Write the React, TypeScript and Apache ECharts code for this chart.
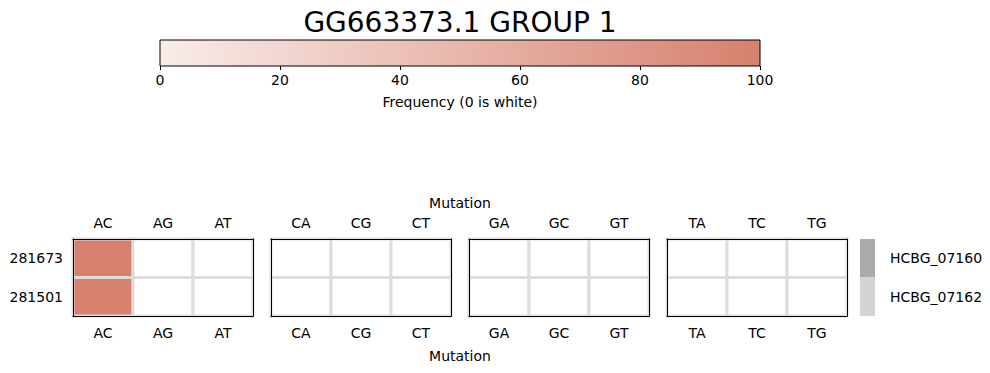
import React, { useEffect, useRef } from "react";
import * as echarts from "echarts";

const titleText = "GG663373.1 GROUP 1";
const rowLabels = ["281673", "281501"];
const mutationGroups = [
  ["AC", "AG", "AT"],
  ["CA", "CG", "CT"],
  ["GA", "GC", "GT"],
  ["TA", "TC", "TG"],
];
// frequencies per row, in the order AC AG AT CA CG CT GA GC GT TA TC TG
const freq281673 = [100, 0, 0, 0, 0, 0, 0, 0, 0, 0, 0, 0];
const freq281501 = [100, 0, 0, 0, 0, 0, 0, 0, 0, 0, 0, 0];
const rowFreqs = [freq281673, freq281501];
const geneLabels = ["HCBG_07160", "HCBG_07162"];
const geneColors = ["#aaaaaa", "#d3d3d3"];
const colorbarRange = [0, 100];
const colorbarInterval = 20;
const colorbarLabel = "Frequency (0 is white)";
const mutationLabel = "Mutation";

const C0 = [249, 236, 233];
const C1 = [215, 128, 110];
const FONT = "DejaVu Sans";

function freqColor(v: number): string {
  if (v === 0) return "#ffffff";
  const t = Math.max(0, Math.min(1, (v - colorbarRange[0]) / (colorbarRange[1] - colorbarRange[0])));
  const c = C0.map((a, i) => Math.round(a + (C1[i] - a) * t));
  return `rgb(${c[0]},${c[1]},${c[2]})`;
}

function cellRenderer(colorOf: (v: number) => string, stroke: string | null, lw: number) {
  return (params: any, api: any) => {
    const p = api.coord([api.value(0), api.value(1)]);
    const s = api.size([1, 1]);
    return {
      type: "rect",
      shape: { x: p[0] - s[0] / 2, y: p[1] - s[1] / 2, width: s[0], height: s[1] },
      style: { fill: colorOf(api.value(2)), stroke: stroke || undefined, lineWidth: stroke ? lw : 0 },
    };
  };
}

export default function App() {
  const ref = useRef<HTMLDivElement>(null);
  useEffect(() => {
    const chart = echarts.init(ref.current!, null, { renderer: "svg" });
    const panelLefts = [73, 271, 469, 667];
    const panelW = 180;
    const panelTop = 239;
    const panelH = 77;

    const grids: any[] = [{ left: 160, top: 40, width: 600, height: 26 }];
    const xAxes: any[] = [
      {
        gridIndex: 0,
        type: "value",
        min: colorbarRange[0],
        max: colorbarRange[1],
        interval: colorbarInterval,
        position: "bottom",
        axisLine: { show: false },
        axisTick: { show: true, length: 4, lineStyle: { color: "#000" } },
        axisLabel: { margin: 7, fontSize: 14, color: "#000", fontFamily: FONT },
        splitLine: { show: false },
        name: colorbarLabel,
        nameLocation: "middle",
        nameGap: 29,
        nameTextStyle: { fontSize: 14, color: "#000", fontFamily: FONT },
      },
    ];
    const yAxes: any[] = [
      { gridIndex: 0, type: "value", min: 0, max: 1, show: false },
    ];
    const series: any[] = [
      {
        type: "custom",
        xAxisIndex: 0,
        yAxisIndex: 0,
        data: [[colorbarRange[0], colorbarRange[1]]],
        renderItem: (params: any, api: any) => {
          const p0 = api.coord([api.value(0), 0]);
          const p1 = api.coord([api.value(1), 1]);
          return {
            type: "rect",
            shape: { x: p0[0], y: p1[1], width: p1[0] - p0[0], height: p0[1] - p1[1] },
            style: {
              fill: new echarts.graphic.LinearGradient(0, 0, 1, 0, [
                { offset: 0, color: `rgb(${C0.join(",")})` },
                { offset: 1, color: `rgb(${C1.join(",")})` },
              ]),
              stroke: "#000",
              lineWidth: 1,
            },
          };
        },
      },
    ];

    const lineStyle = { color: "#000", width: 1 };
    mutationGroups.forEach((cats, i) => {
      const gi = grids.length;
      grids.push({ left: panelLefts[i], top: panelTop, width: panelW, height: panelH });
      const xb = xAxes.length;
      xAxes.push({
        gridIndex: gi,
        type: "category",
        data: cats,
        position: "bottom",
        z: 10,
        axisLine: { show: true, lineStyle },
        axisTick: { show: false },
        axisLabel: { margin: 10, fontSize: 14, color: "#000", fontFamily: FONT },
        splitLine: { show: false },
      });
      xAxes.push({
        gridIndex: gi,
        type: "category",
        data: cats,
        position: "top",
        z: 10,
        axisLine: { show: true, lineStyle },
        axisTick: { show: false },
        axisLabel: { margin: 9, fontSize: 14, color: "#000", fontFamily: FONT },
        splitLine: { show: false },
      });
      const yl = yAxes.length;
      yAxes.push({
        gridIndex: gi,
        type: "category",
        data: rowLabels,
        inverse: true,
        position: "left",
        z: 10,
        axisLine: { show: true, lineStyle },
        axisTick: { show: false },
        axisLabel: { show: i === 0, margin: 10, fontSize: 14, color: "#000", fontFamily: FONT },
        splitLine: { show: false },
      });
      yAxes.push({
        gridIndex: gi,
        type: "category",
        data: rowLabels,
        inverse: true,
        position: "right",
        z: 10,
        axisLine: { show: true, lineStyle },
        axisTick: { show: false },
        axisLabel: { show: false },
        splitLine: { show: false },
      });
      const data: any[] = [];
      rowFreqs.forEach((rf, r) => {
        cats.forEach((c, ci) => {
          data.push([ci, r, rf[i * 3 + ci]]);
        });
      });
      series.push({
        type: "custom",
        xAxisIndex: xb,
        yAxisIndex: yl,
        z: 2,
        data,
        renderItem: cellRenderer(freqColor, "#dddddd", 3),
      });
    });

    // gene annotation strip
    const gg = grids.length;
    grids.push({ left: 860, top: panelTop, width: 15, height: panelH });
    const gx = xAxes.length;
    xAxes.push({ gridIndex: gg, type: "category", data: ["gene"], show: false });
    const gy = yAxes.length;
    yAxes.push({
      gridIndex: gg,
      type: "category",
      data: geneLabels,
      inverse: true,
      position: "right",
      axisLine: { show: false },
      axisTick: { show: false },
      axisLabel: { margin: 15, fontSize: 14, color: "#000", fontFamily: FONT },
      splitLine: { show: false },
    });
    series.push({
      type: "custom",
      xAxisIndex: gx,
      yAxisIndex: gy,
      data: geneLabels.map((g, k) => [0, k, k]),
      renderItem: cellRenderer((k: number) => geneColors[k], null, 0),
    });

    chart.setOption({
      animation: false,
      backgroundColor: "#ffffff",
      textStyle: { fontFamily: FONT },
      grid: grids,
      xAxis: xAxes,
      yAxis: yAxes,
      series,
      graphic: [
        {
          type: "text",
          x: 460,
          y: 22,
          style: { text: titleText, fontSize: 28, fontFamily: FONT, fill: "#000", align: "center", verticalAlign: "middle" },
        },
        {
          type: "text",
          x: 460,
          y: 203,
          style: { text: mutationLabel, fontSize: 14, fontFamily: FONT, fill: "#000", align: "center", verticalAlign: "middle" },
        },
        {
          type: "text",
          x: 460,
          y: 356,
          style: { text: mutationLabel, fontSize: 14, fontFamily: FONT, fill: "#000", align: "center", verticalAlign: "middle" },
        },
      ],
    });
    return () => chart.dispose();
  }, []);
  return (
    <div
      ref={ref}
      style={{ position: "fixed", left: 0, top: 0, width: 990, height: 373, background: "#fff" }}
    />
  );
}
